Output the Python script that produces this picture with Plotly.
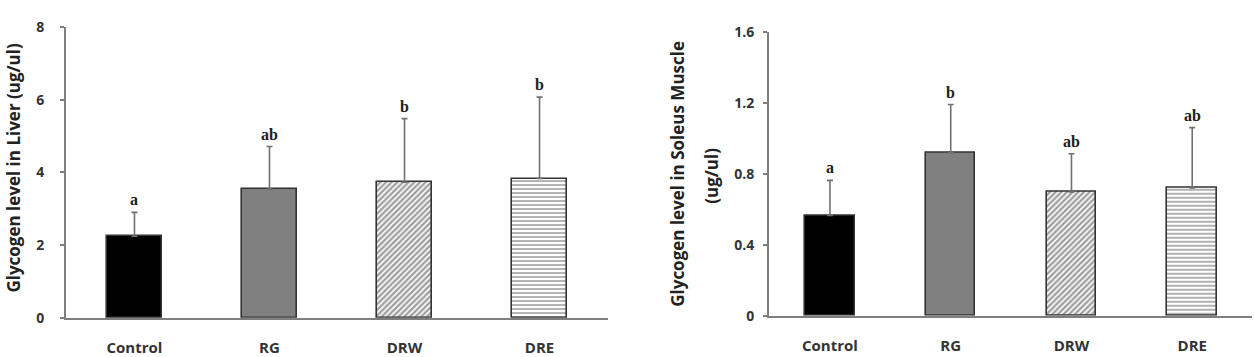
import plotly.graph_objects as go

categories = ["Control", "RG", "DRW", "DRE"]
liver_values = [2.24, 3.54, 3.73, 3.83]
liver_errors = [0.66, 1.17, 1.75, 2.24]
liver_letters = ["a", "ab", "b", "b"]
liver_ticks = [0, 2, 4, 6, 8]

soleus_values = [0.565, 0.918, 0.698, 0.72]
soleus_errors = [0.198, 0.272, 0.215, 0.34]
soleus_letters = ["a", "b", "ab", "ab"]
soleus_ticks = [0, 0.4, 0.8, 1.2, 1.6]
soleus_ticktext = ["0", "0.4", "0.8", "1.2", "1.6"]

W, H = 1254, 357
AX = "#7f7f7f"
TXT = "#333333"
OUT = "#333333"
SANS = "Open Sans"

fills = ["#000000", "#808080", "#ffffff", "#ffffff"]
shapes_ = ["", "", "/", "-"]
fg = ["#000000", "#808080", "#404040", "#666666"]
sol = [0, 0, 0.6, 0.5]

fig = go.Figure()

def add_bars(vals, errs, xa, ya):
    for i, c in enumerate(categories):
        pat = dict(shape=shapes_[i], fgcolor=fg[i], bgcolor="#ffffff",
                   size=4, solidity=sol[i])
        fig.add_trace(go.Bar(
            x=[c], y=[vals[i]], width=0.41, xaxis=xa, yaxis=ya,
            marker=dict(color=fills[i], line=dict(color=OUT, width=1.6),
                        pattern=pat if shapes_[i] else None),
            error_y=dict(type="data", array=[errs[i]], arrayminus=[0], symmetric=False,
                         color="#707070", thickness=1.6, width=3),
            showlegend=False))

add_bars(liver_values, liver_errors, "x", "y")
add_bars(soleus_values, soleus_errors, "x2", "y2")

LFONT = dict(family="Liberation Serif", size=16, color="#222222")
ann = []
for i, c in enumerate(categories):
    ann.append(dict(x=c, y=liver_values[i] + liver_errors[i], xref="x", yref="y",
                    text="<b>" + liver_letters[i] + "</b>", showarrow=False,
                    yanchor="bottom", yshift=2, font=LFONT))
    ann.append(dict(x=c, y=soleus_values[i] + soleus_errors[i], xref="x2", yref="y2",
                    text="<b>" + soleus_letters[i] + "</b>", showarrow=False,
                    yanchor="bottom", yshift=2, font=LFONT))

TFONT = dict(family=SANS, size=17, color="#222222")
ann.append(dict(x=0, y=1 - 167 / H, xref="paper", yref="paper", xanchor="left",
                yanchor="middle", text="<b>Glycogen level in Liver (ug/ul)</b>",
                textangle=-90, showarrow=False, font=TFONT))
ann.append(dict(x=678 / W, y=1 - 173 / H, xref="paper", yref="paper", xanchor="center",
                yanchor="middle", text="<b>Glycogen level in Soleus Muscle</b>",
                textangle=-90, showarrow=False, font=TFONT))
ann.append(dict(x=712 / W, y=1 - 175 / H, xref="paper", yref="paper", xanchor="center",
                yanchor="middle", text="<b>(ug/ul)</b>",
                textangle=-90, showarrow=False, font=TFONT))

xcommon = dict(type="category", showline=True, linecolor=AX, linewidth=2, ticks="",
               tickfont=dict(family=SANS, size=15, color=TXT, weight="bold"),
               ticklabelstandoff=15, showgrid=False, zeroline=False, fixedrange=True)
ycommon = dict(showline=True, linecolor=AX, linewidth=2, ticks="outside", ticklen=4,
               tickcolor=AX, tickwidth=1.5, showgrid=False, zeroline=False,
               tickfont=dict(family=SANS, size=14, color=TXT, weight="bold"))

fig.update_layout(
    width=W, height=H, margin=dict(l=0, r=0, t=0, b=0),
    paper_bgcolor="white", plot_bgcolor="white",
    bargap=0,
    xaxis=dict(domain=[66 / W, 608 / W], range=[-0.507, 3.507], anchor="y", **xcommon),
    yaxis=dict(domain=[1 - 325 / H, 1 - 18 / H], range=[0, 8], tickvals=liver_ticks,
               anchor="x", ticklabelstandoff=13, **ycommon),
    xaxis2=dict(domain=[769 / W, 1252 / W], range=[-0.505, 3.495], anchor="y2", **xcommon),
    yaxis2=dict(domain=[1 - 323 / H, 1 - 23 / H], range=[0, 1.6], tickvals=soleus_ticks,
                ticktext=soleus_ticktext, anchor="x2", ticklabelstandoff=6, **ycommon),
    annotations=ann,
)

fig.write_html("out.html")
